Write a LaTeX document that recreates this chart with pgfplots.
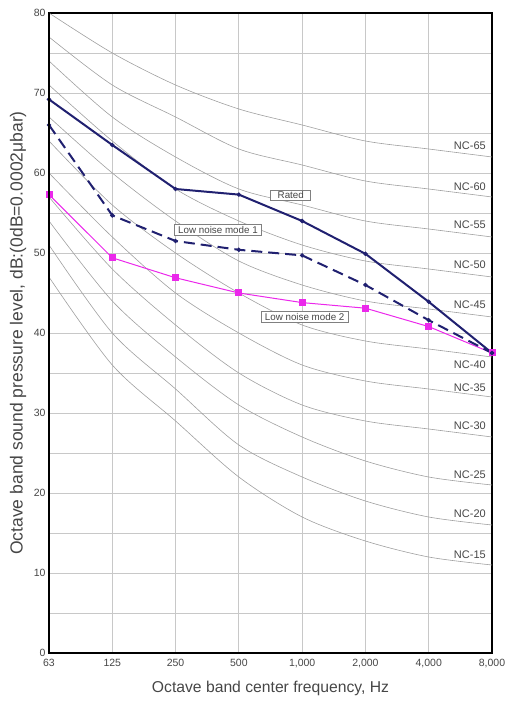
\documentclass[border=0pt]{standalone}
\usepackage{pgfplots}
\usepackage{pgfplotstable}
\pgfplotsset{compat=1.18}
\usepackage{fontspec}
\setmainfont{Liberation Sans}
\definecolor{navy}{RGB}{32,32,112}
\definecolor{mag}{RGB}{235,40,235}
\definecolor{gridc}{RGB}{200,200,200}
\definecolor{ncc}{RGB}{160,160,160}
\definecolor{txtc}{RGB}{70,70,70}

\pgfplotstableread{
x nca ncb ncc ncd nce ncf ncg nch nci ncj nck
0 47 51 54 57 60 64 67 71 74 77 80
1 36 40 44 48 52 56 60 64 67 71 75
2 29 33 37 41 45 50 54 58 62 67 71
3 22 26 31 35 40 45 49 54 58 63 68
4 17 22 27 31 36 41 46 51 56 61 66
5 14 19 24 29 34 39 44 49 54 59 64
6 12 17 22 28 33 38 43 48 53 58 63
7 11 16 21 27 32 37 42 47 52 57 62
}\nctable

\pgfplotstableread{
x y
0 69.2
1 63.5
2 58.0
3 57.3
4 54.0
5 49.9
6 43.9
7 37.5
}\rated

\pgfplotstableread{
x y
0 66.0
1 54.7
2 51.5
3 50.4
4 49.7
5 46.0
6 41.6
7 37.5
}\modeone

\pgfplotstableread{
x y
0 57.3
1 49.4
2 46.9
3 45.0
4 43.8
5 43.1
6 40.8
7 37.5
}\modetwo

\begin{document}
\begin{tikzpicture}
\begin{axis}[
  scale only axis,
  width=443pt, height=640pt,
  xmin=0, xmax=7, ymin=0, ymax=80,
  xtick={0,1,2,3,4,5,6,7},
  xticklabels={63,125,250,500,{1,000},{2,000},{4,000},{8,000}},
  ytick={0,10,20,30,40,50,60,70,80},
  minor ytick={5,15,25,35,45,55,65,75},
  grid=both,
  major grid style={gridc, line width=0.9pt},
  minor grid style={gridc, line width=0.9pt},
  major tick length=0pt, minor tick length=0pt,
  axis line style={black, line width=1.3pt},
  tick label style={font=\fontsize{10.5}{12}\selectfont, text=txtc},
  /pgf/number format/assume math mode=true,
  xticklabel style={yshift=-3pt},
  xlabel={Octave band center frequency, Hz},
  ylabel={Octave band sound pressure level, dB:(0dB=0.0002μbar)},
  xlabel style={font=\fontsize{15.7}{18}\selectfont, text=txtc, at={(axis description cs:0.5,-0.0547)}, anchor=center},
  ylabel style={font=\fontsize{17.5}{20}\selectfont, text=txtc, at={(axis description cs:-0.07,0.5)}, anchor=center},
  clip=true,
]
\foreach \c in {nca,ncb,ncc,ncd,nce,ncf,ncg,nch,nci,ncj,nck}{
  \addplot[ncc, line width=0.6pt, smooth, tension=0.5] table[x=x, y=\c] {\nctable};
}
\addplot[mag, line width=1.0pt, mark=square*, mark size=3pt, mark options={solid, fill=mag, draw=mag}] table {\modetwo};
\addplot[navy, line width=2.0pt, dash pattern=on 11pt off 6pt, mark=*, mark size=1pt, mark options={solid}] table {\modeone};
\addplot[navy, line width=2.0pt, mark=*, mark size=1pt] table {\rated};

\begin{scope}[every node/.style={font=\fontsize{11}{13}\selectfont, text=txtc, anchor=center}]
\node at (axis cs:6.65,63.4) {NC-65};
\node at (axis cs:6.65,58.25) {NC-60};
\node at (axis cs:6.65,53.5) {NC-55};
\node at (axis cs:6.65,48.5) {NC-50};
\node at (axis cs:6.65,43.5) {NC-45};
\node at (axis cs:6.65,36.0) {NC-40};
\node at (axis cs:6.65,33.1) {NC-35};
\node at (axis cs:6.65,28.4) {NC-30};
\node at (axis cs:6.65,22.25) {NC-25};
\node at (axis cs:6.65,17.4) {NC-20};
\node at (axis cs:6.65,12.25) {NC-15};
\end{scope}
\begin{scope}[every node/.style={font=\fontsize{9.8}{11}\selectfont, text=txtc, anchor=center, draw=gray, fill=white, line width=0.8pt, inner xsep=4pt, inner ysep=1.8pt}]
\node[inner xsep=7pt] at (axis cs:3.82,57.2) {Rated};
\node at (axis cs:2.67,52.9) {Low noise mode 1};
\node at (axis cs:4.04,42.06) {Low noise mode 2};
\end{scope}
\end{axis}
\draw[black, line width=2.4pt] (current axis.north west) -- (current axis.south west) -- (current axis.south east);
\path ([shift={(-49pt,-49pt)}]current axis.south west) rectangle ([shift={(13pt,13pt)}]current axis.north east);
\end{tikzpicture}
\end{document}
